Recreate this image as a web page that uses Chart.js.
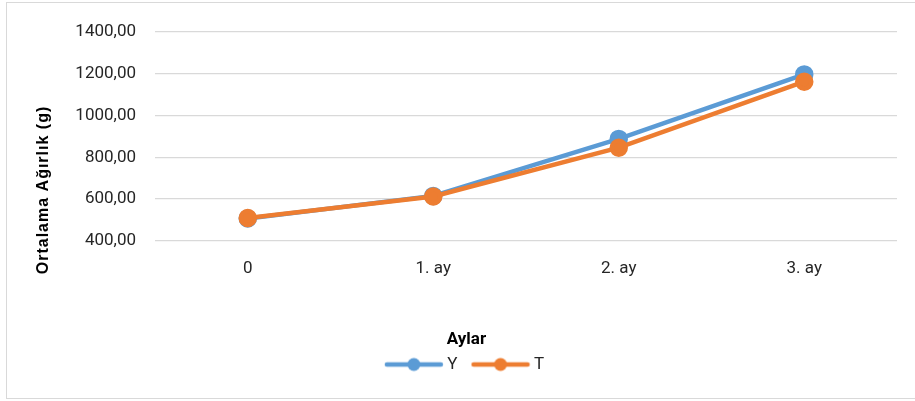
<!DOCTYPE html>
<html>
<head>
<meta charset="utf-8">
<script src="https://cdn.jsdelivr.net/npm/chart.js@4.4.1/dist/chart.umd.min.js"></script>
<style>
  html, body { margin: 0; padding: 0; background: #fff; }
  #wrap { position: relative; width: 915px; height: 401px; }
  #frame { position: absolute; left: 6px; top: 2px; width: 910px; height: 397px;
           border: 1.5px solid #d9d9d9; box-sizing: border-box; pointer-events: none; }
  canvas { position: absolute; left: 0; top: 0; }
</style>
</head>
<body>
<div id="wrap">
  <canvas id="c" width="915" height="401"></canvas>
  <div id="frame"></div>
</div>
<script>
// Months of the trial
const categories = ['0', '1. ay', '2. ay', '3. ay'];
// Mean body weight (g) per group
const seriesY = [507, 615, 888, 1197];
const seriesT = [509, 612, 846, 1162];
const seriesNames = ['Y', 'T'];
const yTicks = [400, 600, 800, 1000, 1200, 1400];

const BLUE = '#5B9BD5';
const ORANGE = '#ED7D31';
const FONT = 'Roboto, "Liberation Sans", sans-serif';

// Legend swatch: a short line with a round marker in the middle
function swatch(color) {
  const cv = document.createElement('canvas');
  cv.width = 60; cv.height = 16;
  const g = cv.getContext('2d');
  g.strokeStyle = color; g.lineWidth = 4.5; g.lineCap = 'round';
  g.beginPath(); g.moveTo(3, 8); g.lineTo(57, 8); g.stroke();
  g.fillStyle = color;
  g.beginPath(); g.arc(30, 8, 6.5, 0, Math.PI * 2); g.fill();
  return cv;
}

// Nudge the legend block to the right
const legendShift = {
  id: 'legendShift',
  afterLayout(chart) {
    chart.legend.left += 18;
    chart.legend.right += 18;
  }
};

// Vertical y-axis title, centred lower than the plot area
const yTitle = {
  id: 'yTitle',
  afterDraw(chart) {
    const ctx = chart.ctx;
    ctx.save();
    ctx.letterSpacing = '1px';
    ctx.font = 'bold 16px "Liberation Sans", Arial, sans-serif';
    ctx.fillStyle = '#000';
    ctx.textAlign = 'center';
    ctx.textBaseline = 'middle';
    ctx.translate(44, 190);
    ctx.rotate(-Math.PI / 2);
    ctx.fillText('Ortalama Ağırlık (g)', 0, 0);
    ctx.restore();
  }
};

const colors = [BLUE, ORANGE];
const datasets = [seriesY, seriesT].map((vals, i) => ({
  label: seriesNames[i],
  data: vals,
  borderColor: colors[i],
  backgroundColor: colors[i],
  pointBackgroundColor: colors[i],
  pointBorderColor: colors[i],
  borderWidth: 4.5,
  pointRadius: 7,
  pointHoverRadius: 7,
  pointStyle: 'circle',
  tension: 0,
  order: 2 - i
}));
const legendSwatches = colors.map(swatch);

new Chart(document.getElementById('c'), {
  type: 'line',
  data: { labels: categories, datasets },
  plugins: [legendShift, yTitle],
  options: {
    responsive: false,
    animation: false,
    events: [],
    layout: { padding: { left: 0, right: 18, top: 32, bottom: 18 } },
    scales: {
      x: {
        offset: true,
        grid: { display: false, drawTicks: false },
        border: { display: false },
        ticks: { color: '#262626', font: { family: FONT, size: 17 }, padding: 17.5 }
      },
      y: {
        min: 400, max: 1400,
        afterFit(scale) { scale.width = 155; },
        afterBuildTicks(scale) { scale.ticks = yTicks.map(v => ({ value: v })); },
        grid: { color: '#d9d9d9', lineWidth: 1.3, drawTicks: false },
        border: { display: false },
        ticks: {
          color: '#262626',
          font: { family: FONT, size: 17 },
          padding: 19,
          callback: v => v.toFixed(2).replace('.', ',')
        }
      }
    },
    plugins: {
      tooltip: { enabled: false },
      legend: {
        position: 'bottom',
        title: {
          display: true,
          text: 'Aylar',
          color: '#000',
          font: { family: FONT, size: 17, weight: 'bold', lineHeight: 0.4 },
          padding: { top: 35, bottom: 0 }
        },
        labels: {
          color: '#262626',
          font: { family: FONT, size: 17 },
          boxHeight: 16,
          usePointStyle: true,
          pointStyleWidth: 50,
          padding: 18,
          sort: (a, b) => a.datasetIndex - b.datasetIndex,
          generateLabels(chart) {
            return chart.data.datasets.map((d, i) => ({
              text: d.label,
              datasetIndex: i,
              fillStyle: d.borderColor,
              strokeStyle: d.borderColor,
              fontColor: '#262626',
              lineWidth: 0,
              hidden: false,
              pointStyle: legendSwatches[i]
            }));
          }
        }
      }
    }
  }
});
</script>
</body>
</html>
